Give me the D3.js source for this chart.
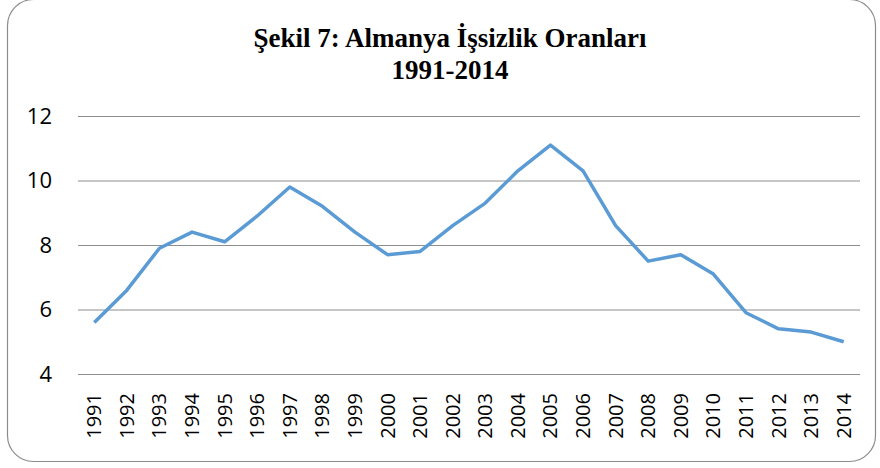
<!DOCTYPE html>
<html>
<head>
<meta charset="utf-8">
<script src="https://cdn.jsdelivr.net/npm/d3@7"></script>
<style>
  body { margin: 0; background: #fff; }
  svg { display: block; }
</style>
</head>
<body>
<div id="chart"></div>
<script>
// data
const years = ["1991","1992","1993","1994","1995","1996","1997","1998","1999","2000","2001","2002",
               "2003","2004","2005","2006","2007","2008","2009","2010","2011","2012","2013","2014"];
const rates = [5.6, 6.6, 7.9, 8.4, 8.1, 8.9, 9.8, 9.2, 8.4, 7.7, 7.8, 8.6,
               9.3, 10.3, 11.1, 10.3, 8.6, 7.5, 7.7, 7.1, 5.9, 5.4, 5.3, 5.0];
const yTicks = [4, 6, 8, 10, 12];
const titleLines = ["Şekil 7: Almanya İşsizlik Oranları", "1991-2014"];

const width = 880, height = 468;
const margin = {top: 116, right: 20, bottom: 94, left: 78};

let svg = d3.select("#chart").append("svg")
    .attr("width", width)
    .attr("height", height);

// outer rounded frame
svg.append("rect")
    .attr("x", 7.5).attr("y", -0.5)
    .attr("width", 868).attr("height", 462)
    .attr("rx", 26).attr("ry", 26)
    .attr("fill", "#fff")
    .attr("stroke", "#8c8c8c")
    .attr("stroke-width", 1.2);

// title
svg.append("text")
    .attr("x", 450).attr("text-anchor", "middle")
    .attr("font-family", "'Liberation Serif', 'Times New Roman', serif")
    .attr("font-weight", "bold")
    .attr("font-size", 27)
    .selectAll("tspan")
    .data(titleLines)
    .enter().append("tspan")
    .attr("x", 450)
    .attr("y", (d, i) => 47 + i * 32)
    .text(d => d);

let x = d3.scaleBand()
    .domain(years)
    .range([margin.left, width - margin.right]);

let y = d3.scaleLinear()
    .domain([4, 12])
    .range([height - margin.bottom, margin.top]);

// gridlines + y labels
let yAxis = svg.append("g")
    .attr("transform", `translate(${margin.left},0)`)
    .call(d3.axisLeft(y).tickValues(yTicks).tickSize(-(width - margin.left - margin.right)).tickPadding(26));
yAxis.select(".domain").remove();
yAxis.selectAll("line").attr("stroke", "#8e8e8e").attr("stroke-width", 1.2);
yAxis.selectAll("text")
    .attr("font-family", "'Open Sans', Calibri, sans-serif")
    .attr("font-size", 22)
    .attr("fill", "#000");

// x labels, rotated
let xAxis = svg.append("g")
    .attr("transform", `translate(0,${height - margin.bottom})`)
    .call(d3.axisBottom(x).tickSize(0));
xAxis.select(".domain").remove();
xAxis.selectAll("text")
    .attr("font-family", "'Open Sans', Calibri, sans-serif")
    .attr("font-size", 20)
    .attr("fill", "#000")
    .attr("text-anchor", "end")
    .attr("dy", "0.35em")
    .attr("transform", "translate(0,19) rotate(-90)")
    .attr("x", 0).attr("y", 0);

// line
let line = d3.line()
    .x((d, i) => x(years[i]) + x.bandwidth() / 2)
    .y(d => y(d));

svg.append("path")
    .datum(rates)
    .attr("fill", "none")
    .attr("stroke", "#5b9bd5")
    .attr("stroke-width", 3.5)
    .attr("stroke-linejoin", "round")
    .attr("d", line);
</script>
</body>
</html>
